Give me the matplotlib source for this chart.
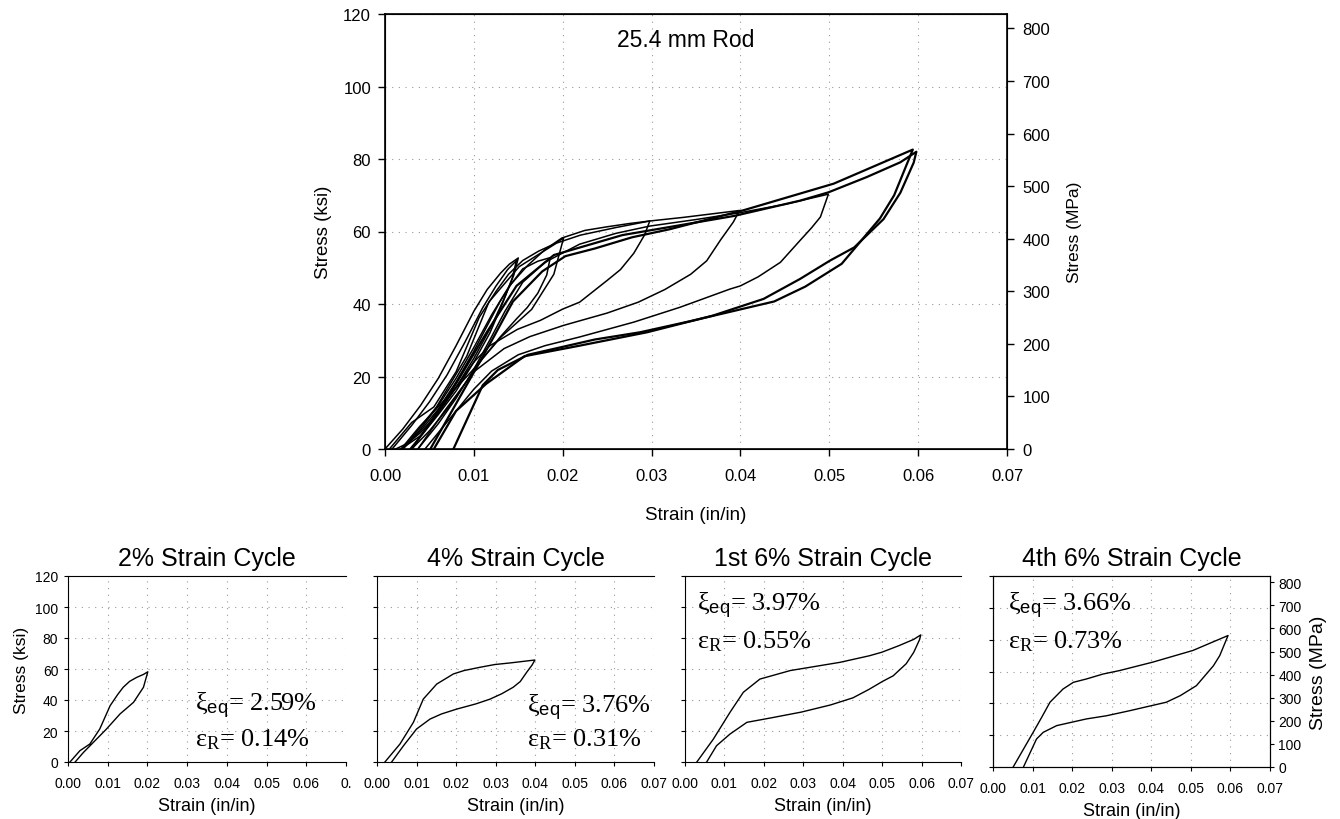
import numpy as np
import matplotlib
matplotlib.use("Agg")
import matplotlib.pyplot as plt

plt.rcParams['font.family'] = ['Liberation Sans', 'DejaVu Sans']
plt.rcParams['mathtext.fontset'] = 'custom'
plt.rcParams['mathtext.rm'] = 'Liberation Serif'
plt.rcParams['mathtext.sf'] = 'Liberation Sans'
plt.rcParams['mathtext.it'] = 'Liberation Serif:italic'

KSI_TO_MPA = 6.894757

# ---------------- data (strain in/in, stress ksi) ----------------
c15a_load_strain = [0.0, 0.002, 0.004, 0.006, 0.008, 0.010, 0.0115, 0.013, 0.014, 0.015]
c15a_load_stress = [0, 5.5, 12, 19.5, 28.5, 38, 44, 48.5, 51, 52.7]
c15a_unload_strain = [0.015, 0.0145, 0.0135, 0.012, 0.010, 0.008, 0.006, 0.004, 0.0025, 0.0012]
c15a_unload_stress = [52.7, 48, 42, 34, 25, 17, 10, 4.5, 1.5, 0]

c15b_load_strain = [0.0008, 0.003, 0.005, 0.007, 0.009, 0.011, 0.0125, 0.0138, 0.0148]
c15b_load_stress = [0, 6.5, 13, 20.5, 29.5, 39, 45, 49.5, 52]
c15b_unload_strain = [0.0148, 0.0143, 0.0132, 0.0118, 0.010, 0.008, 0.006, 0.0042, 0.0018]
c15b_unload_stress = [52, 47, 40, 32, 24, 16, 9.5, 4, 0]

c2_load_strain = [0.0005, 0.003, 0.0055, 0.008, 0.0106, 0.0125, 0.0139, 0.0155, 0.0173, 0.019, 0.0201]
c2_load_stress = [0, 7.3, 11.6, 21.3, 36.3, 43.5, 48.2, 52, 54.6, 56.5, 58.2]
c2_unload_strain = [0.0201, 0.019, 0.0165, 0.0131, 0.0097, 0.0064, 0.0039, 0.0018]
c2_unload_stress = [58.2, 48.2, 38.5, 31, 21.3, 12.7, 6.2, 0]

c2b_load_strain = [0.002, 0.004, 0.006, 0.008, 0.010, 0.0115, 0.0129, 0.0142, 0.0155, 0.0172, 0.0186]
c2b_load_stress = [0, 5, 11, 18.5, 27, 34, 40.5, 45.5, 49.7, 51.8, 52.8]
c2b_unload_strain = [0.0186, 0.0182, 0.0172, 0.016, 0.0148, 0.013, 0.011, 0.009, 0.007, 0.005, 0.003]
c2b_unload_stress = [52.8, 48, 43, 39, 35.9, 31, 25, 18, 11, 5, 0]

c3_load_strain = [0.002, 0.004, 0.006, 0.008, 0.010, 0.012, 0.014, 0.016, 0.018, 0.0199, 0.0225, 0.025, 0.0275, 0.0298]
c3_load_stress = [0, 5.5, 12, 19.5, 28, 37, 45, 50.5, 55, 58.2, 60.3, 61.3, 62.2, 62.9]
c3_unload_strain = [0.0298, 0.0292, 0.028, 0.0265, 0.025, 0.0219, 0.020, 0.0175, 0.0149, 0.0118, 0.010, 0.008, 0.006, 0.004, 0.0028]
c3_unload_stress = [62.9, 59, 54, 49.5, 46.5, 40.5, 38.6, 35.5, 33, 28.5, 24, 17, 10, 3.5, 0]

c4_load_strain = [0.002, 0.0058, 0.0092, 0.0117, 0.0151, 0.0193, 0.022, 0.026, 0.0298, 0.0336, 0.0399]
c4_load_stress = [0, 11.6, 25.6, 40.6, 50.3, 56.8, 59, 61.1, 62.9, 63.9, 65.8]
c4_unload_strain = [0.0399, 0.0392, 0.0378, 0.0362, 0.0344, 0.0315, 0.0285, 0.025, 0.0201, 0.0163, 0.0134, 0.010, 0.0067, 0.0037]
c4_unload_stress = [65.8, 62.6, 57.8, 51.9, 48.2, 44, 40.5, 37.5, 34.1, 31, 27.7, 21.3, 10.5, 0]

c5_load_strain = [0.0037, 0.006, 0.008, 0.010, 0.012, 0.0135, 0.0155, 0.018, 0.0219, 0.026, 0.0298, 0.035, 0.040, 0.045, 0.0499]
c5_load_stress = [0, 7, 14, 22, 31, 38, 46, 51.5, 56.5, 59.5, 61.5, 63.3, 65.2, 67.5, 70.3]
c5_unload_strain = [0.0499, 0.049, 0.048, 0.0467, 0.0445, 0.042, 0.040, 0.0388, 0.0332, 0.028, 0.0219, 0.018, 0.015, 0.012, 0.010, 0.008, 0.006, 0.0045]
c5_unload_stress = [70.3, 64, 61, 57.5, 51.5, 47.5, 45, 44.1, 39.1, 35, 30.9, 28.5, 26, 21.5, 16.5, 10.5, 4.5, 0]

c6a_load_strain = [0.003, 0.0072, 0.0114, 0.0148, 0.019, 0.0267, 0.0393, 0.0467, 0.0499, 0.0542, 0.058, 0.0598]
c6a_load_stress = [0, 14.8, 32, 45, 53.5, 59, 64.3, 68.5, 70.8, 75, 79.1, 82]
c6a_unload_strain = [0.0598, 0.0595, 0.058, 0.0561, 0.0528, 0.0501, 0.0467, 0.0426, 0.0369, 0.0295, 0.0219, 0.0157, 0.0114, 0.008, 0.0055]
c6a_unload_stress = [82, 79, 70.7, 63.4, 55.6, 52, 46.9, 41.4, 36.8, 32.2, 28.5, 25.6, 18, 10.5, 0]

c6d_load_strain = [0.0051, 0.0102, 0.0123, 0.0144, 0.0177, 0.0203, 0.0236, 0.0278, 0.032, 0.0404, 0.0505, 0.0594]
c6d_load_stress = [0, 22, 31.2, 40.7, 49, 53.2, 55.3, 58.4, 60.6, 65.9, 73.2, 82.6]
c6d_unload_strain = [0.0594, 0.0573, 0.0557, 0.0514, 0.0473, 0.0438, 0.0346, 0.0287, 0.0236, 0.0161, 0.0127, 0.011, 0.0077]
c6d_unload_stress = [82.6, 70, 63.6, 51.1, 44.8, 40.7, 35.4, 32.2, 30.2, 26, 21.8, 17.6, 0]

panel_titles = ["2% Strain Cycle", "4% Strain Cycle", "1st 6% Strain Cycle", "4th 6% Strain Cycle"]
panel_xi = ["2.59%", "3.76%", "3.97%", "3.66%"]
panel_epsR = ["0.14%", "0.31%", "0.55%", "0.73%"]

x_ticks = [0.00, 0.01, 0.02, 0.03, 0.04, 0.05, 0.06, 0.07]
x_ticklabels = ["0.00", "0.01", "0.02", "0.03", "0.04", "0.05", "0.06", "0.07"]
ksi_ticks = [0, 20, 40, 60, 80, 100, 120]
mpa_ticks = [0, 100, 200, 300, 400, 500, 600, 700, 800]

main_cycles = [
    (c15a_load_strain, c15a_load_stress, c15a_unload_strain, c15a_unload_stress, 1.1),
    (c15b_load_strain, c15b_load_stress, c15b_unload_strain, c15b_unload_stress, 1.1),
    (c2_load_strain, c2_load_stress, c2_unload_strain, c2_unload_stress, 1.1),
    (c2b_load_strain, c2b_load_stress, c2b_unload_strain, c2b_unload_stress, 1.1),
    (c3_load_strain, c3_load_stress, c3_unload_strain, c3_unload_stress, 1.1),
    (c4_load_strain, c4_load_stress, c4_unload_strain, c4_unload_stress, 1.1),
    (c5_load_strain, c5_load_stress, c5_unload_strain, c5_unload_stress, 1.1),
    (c6a_load_strain, c6a_load_stress, c6a_unload_strain, c6a_unload_stress, 1.6),
    (c6d_load_strain, c6d_load_stress, c6d_unload_strain, c6d_unload_stress, 1.6),
]
panel_cycles = [main_cycles[2], main_cycles[5], main_cycles[7], main_cycles[8]]

GRID = dict(color='#9a9a9a', linestyle=(0, (1, 5)), linewidth=0.8)

# ---------------- figure ----------------
fig = plt.figure(figsize=(13.4, 8.2), dpi=100)
W, H = 1340, 820


def rect(l, t, r, b):
    return [l / W, 1 - b / H, (r - l) / W, (b - t) / H]


ax = fig.add_axes(rect(385, 15, 1007, 450))
for ls, ss, lu, su, lw in main_cycles:
    ax.plot(np.r_[ls, lu], np.r_[ss, su], color='black', lw=lw, solid_joinstyle='round')
ax.set_xlim(0, 0.07)
ax.set_ylim(0, 120)
ax.set_xticks(x_ticks)
ax.set_xticklabels(x_ticklabels)
ax.set_yticks(ksi_ticks)
ax.tick_params(labelsize=12, length=5, width=1, pad=5)
ax.tick_params(axis='x', pad=9)
ax.grid(True, **GRID)
for s in ax.spines.values():
    s.set_linewidth(1.2)
ax.set_xlabel("Strain (in/in)", fontsize=13.5, labelpad=16)
ax.set_ylabel("Stress (ksi)", fontsize=13.5, labelpad=8)
ax.text(0.0338, 111.2, "25.4 mm Rod", ha='center', va='baseline', fontsize=16.5)
ax2 = ax.twinx()
ax2.set_ylim(0, 120 * KSI_TO_MPA)
ax2.set_yticks(mpa_ticks)
ax2.tick_params(labelsize=12, length=5, width=1, pad=6)
ax2.set_ylabel("Stress (MPa)", fontsize=12.5, labelpad=12)

panel_rects = [rect(68, 577, 346, 763), rect(377, 577, 654, 763),
               rect(685, 577, 961, 763), rect(993, 577, 1270, 768)]
xi_pos = [(0.032, 33), (0.0378, 32), (0.003, 97.6), (0.0039, 98.2)]
er_pos = [(0.032, 10.5), (0.0378, 10.5), (0.003, 74), (0.0039, 75.2)]

for i, (r, cyc) in enumerate(zip(panel_rects, panel_cycles)):
    pa = fig.add_axes(r)
    ls, ss, lu, su, _ = cyc
    pa.plot(np.r_[ls, lu], np.r_[ss, su], color='black', lw=1.0)
    pa.set_xlim(0, 0.07)
    pa.set_ylim(0, 120)
    pa.set_xticks(x_ticks)
    labels = list(x_ticklabels)
    if i == 0:
        labels[-1] = "0."
    pa.set_xticklabels(labels)
    pa.set_yticks(ksi_ticks)
    if i != 0:
        pa.set_yticklabels([])
    pa.tick_params(labelsize=10, length=3, width=0.8, pad=4)
    pa.tick_params(axis='x', pad=7)
    pa.grid(True, **GRID)
    if i < 3:
        pa.spines['right'].set_visible(False)
    pa.set_title(panel_titles[i], fontsize=18, pad=8)
    pa.set_xlabel("Strain (in/in)", fontsize=13, labelpad=5)
    if i == 0:
        pa.set_ylabel("Stress (ksi)", fontsize=12.5, labelpad=4)
    if i == 3:
        pb = pa.twinx()
        pb.set_ylim(0, 120 * KSI_TO_MPA)
        pb.set_yticks(mpa_ticks)
        pb.tick_params(labelsize=10, length=3, width=0.8, pad=3)
        pb.set_ylabel("Stress (MPa)", fontsize=14, labelpad=6)
    xx, yy = xi_pos[i]
    pa.text(xx, yy, r'$\mathrm{ξ}_{\mathsf{eq}}$= ' + panel_xi[i],
            fontfamily='Liberation Serif', fontsize=19, ha='left', va='baseline')
    xx, yy = er_pos[i]
    pa.text(xx, yy, r'$\mathrm{ε}_{\mathrm{R}}$= ' + panel_epsR[i],
            fontfamily='Liberation Serif', fontsize=19, ha='left', va='baseline')

fig.savefig("out.png", dpi=100)
